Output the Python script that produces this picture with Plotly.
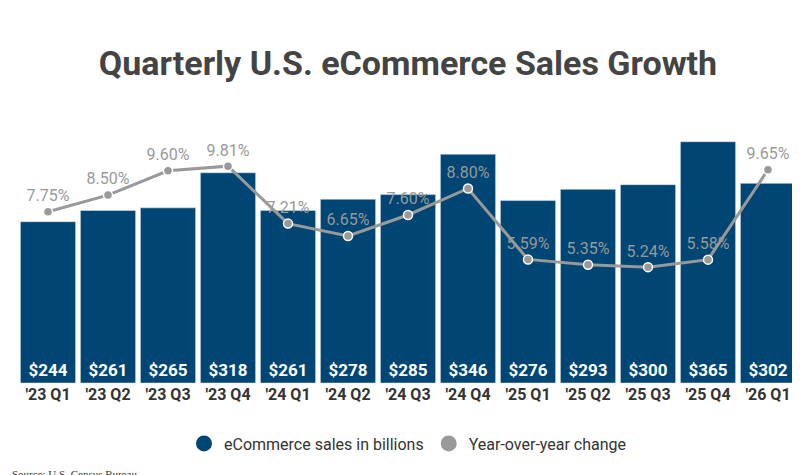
import plotly.graph_objects as go

quarters = ["'23 Q1","'23 Q2","'23 Q3","'23 Q4","'24 Q1","'24 Q2","'24 Q3","'24 Q4","'25 Q1","'25 Q2","'25 Q3","'25 Q4","'26 Q1"]
sales = [244,261,265,318,261,278,285,346,276,293,300,365,302]
yoy = [7.75,8.50,9.60,9.81,7.21,6.65,7.60,8.80,5.59,5.35,5.24,5.58,9.65]

fig = go.Figure()
fig.add_trace(go.Bar(x=quarters, y=sales, name="eCommerce sales in billions", showlegend=False,
    marker_color="#004674", text=[f"${v}" for v in sales], textposition="inside",
    insidetextanchor="start", textangle=0, textfont=dict(color="white", size=17, family="Roboto"),
    texttemplate="<b>%{text}</b>"))
fig.add_trace(go.Scatter(x=quarters, y=yoy, name="Year-over-year change", yaxis="y2", showlegend=False,
    mode="lines+markers+text", line=dict(color="#999999", width=3),
    marker=dict(color="#999999", size=9, line=dict(color="white", width=1.5)),
    text=[f"{v:.2f}%" for v in yoy], textposition="top center",
    textfont=dict(color="#999999", size=16, family="Roboto"), cliponaxis=False))
for nm, col in [("eCommerce sales in billions", "#004674"), ("Year-over-year change", "#999999")]:
    fig.add_trace(go.Scatter(x=[None], y=[None], mode="markers", name=nm,
                             marker=dict(color=col, size=18, symbol="circle")))
fig.update_layout(
    width=800, height=475, margin=dict(l=10, r=10, t=100, b=100, autoexpand=False),
    paper_bgcolor="white", plot_bgcolor="white", bargap=0.08,
    title=dict(text="<b>Quarterly U.S. eCommerce Sales Growth</b>", x=0.5, y=0.885, xanchor="center", yanchor="middle",
               font=dict(size=34, color="#444444", family="Roboto")),
    xaxis=dict(tickfont=dict(size=16, color="#333333", family="Roboto"), showgrid=False, ticks="",
               range=[-0.5, 12.5], automargin=False, tickprefix="<b>", ticksuffix="</b>"),
    yaxis=dict(range=[0, 416], visible=False, automargin=False),
    yaxis2=dict(range=[0, 12.44], overlaying="y", visible=False, automargin=False),
    legend=dict(orientation="h", x=0.5, xanchor="center", y=-0.22, yanchor="middle",
                font=dict(size=16, color="#333333", family="Roboto")),
    showlegend=True,
)
fig.add_annotation(text="Source: U.S. Census Bureau", xref="paper", yref="paper", x=-0.01, y=-0.36,
                   xanchor="left", yanchor="bottom", showarrow=False,
                   font=dict(size=11, family="Liberation Serif", color="#333333"))
fig.write_html("out.html")
